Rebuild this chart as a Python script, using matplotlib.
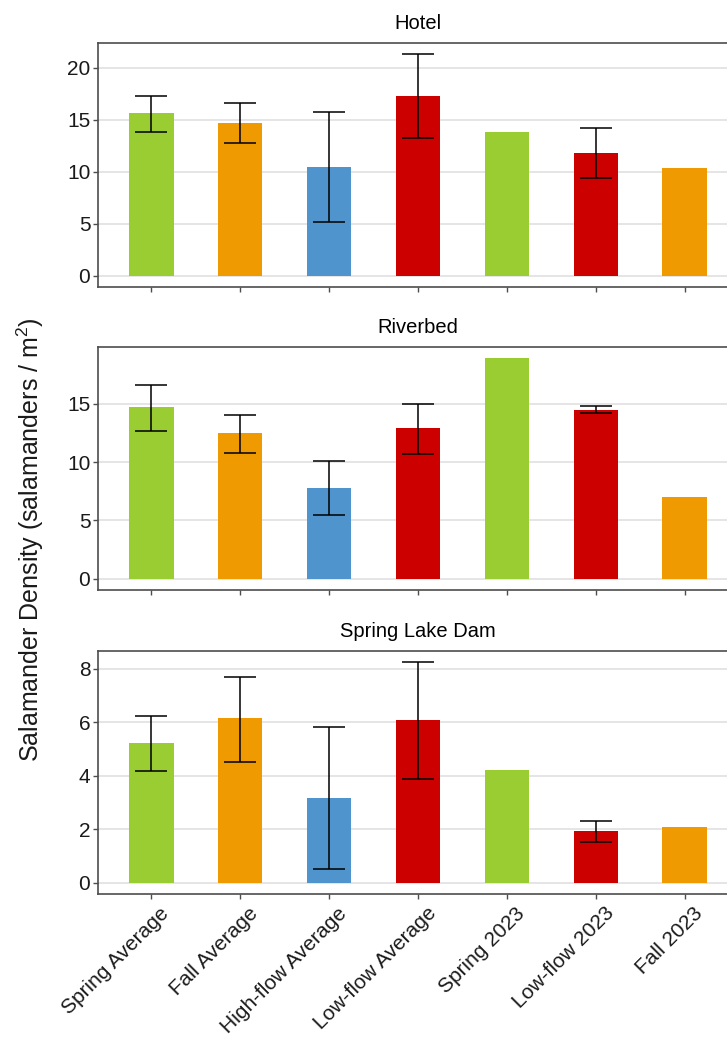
import matplotlib

matplotlib.use("Agg")

import matplotlib.pyplot as plt
import matplotlib.transforms as mtransforms
import numpy as np
from matplotlib.ticker import MultipleLocator

plt.rcParams["font.family"] = ["Liberation Sans", "DejaVu Sans"]
plt.rcParams["mathtext.fontset"] = "custom"
plt.rcParams["mathtext.rm"] = "Liberation Sans"
plt.rcParams["mathtext.it"] = "Liberation Sans:italic"

CATEGORIES = [
    "Spring Average",
    "Fall Average",
    "High-flow Average",
    "Low-flow Average",
    "Spring 2023",
    "Low-flow 2023",
    "Fall 2023",
]
SEASON = ["spring", "fall", "high", "low", "spring", "low", "fall"]
SEASON_COLORS = {"spring": "#9ACD32", "fall": "#EE9A00", "high": "#4F94CD", "low": "#CD0000"}

SITES = ["Hotel", "Riverbed", "Spring Lake Dam"]

# mean density and the lower / upper ends of the error bars (nan = single survey)
HOTEL_MEAN = [15.6, 14.7, 10.5, 17.3, 13.8, 11.8, 10.35]
HOTEL_LOW = [13.85, 12.8, 5.2, 13.2, np.nan, 9.4, np.nan]
HOTEL_HIGH = [17.3, 16.6, 15.7, 21.3, np.nan, 14.25, np.nan]

RIVERBED_MEAN = [14.67, 12.48, 7.78, 12.94, 18.89, 14.48, 6.98]
RIVERBED_LOW = [12.65, 10.8, 5.44, 10.66, np.nan, 14.19, np.nan]
RIVERBED_HIGH = [16.6, 14.05, 10.09, 14.99, np.nan, 14.76, np.nan]

DAM_MEAN = [5.24, 6.16, 3.16, 6.11, 4.22, 1.94, 2.09]
DAM_LOW = [4.2, 4.51, 0.51, 3.9, np.nan, 1.52, np.nan]
DAM_HIGH = [6.23, 7.71, 5.82, 8.26, np.nan, 2.33, np.nan]

MEANS = [HOTEL_MEAN, RIVERBED_MEAN, DAM_MEAN]
LOWS = [HOTEL_LOW, RIVERBED_LOW, DAM_LOW]
HIGHS = [HOTEL_HIGH, RIVERBED_HIGH, DAM_HIGH]
Y_STEPS = [5, 5, 2]

W, H = 727, 1041
fig = plt.figure(figsize=(W / 100, H / 100), dpi=100)
fig.patch.set_facecolor("white")

# panel boxes in pixels: (top, bottom); the right edge runs past the canvas
left_px, right_px = 98, 738
panel_px = [(43, 287), (347, 590), (651, 894)]

x = np.arange(len(CATEGORIES))
colors = [SEASON_COLORS[s] for s in SEASON]

for i, site in enumerate(SITES):
    top, bottom = panel_px[i]
    ax = fig.add_axes([left_px / W, (H - bottom) / H, (right_px - left_px) / W, (bottom - top) / H])
    mean = np.array(MEANS[i])
    low = np.array(LOWS[i])
    high = np.array(HIGHS[i])

    ax.bar(x, mean, width=0.5, color=colors, zorder=2)
    has_err = ~np.isnan(low)
    ax.errorbar(
        x[has_err], mean[has_err],
        yerr=[mean[has_err] - low[has_err], high[has_err] - mean[has_err]],
        fmt="none", ecolor="black", elinewidth=1.1, capsize=11.5, capthick=1.1, zorder=3,
    )

    top_val = np.nanmax(np.concatenate([mean, high]))
    ax.set_ylim(-0.05 * top_val, 1.05 * top_val)
    ax.set_xlim(-0.6, len(CATEGORIES) - 0.4)
    ax.yaxis.set_major_locator(MultipleLocator(Y_STEPS[i]))
    ax.grid(axis="y", color="#DEDEDE", linewidth=1.1, zorder=0)
    ax.set_axisbelow(True)

    for spine in ax.spines.values():
        spine.set_color("#4D4D4D")
        spine.set_linewidth(1.2)

    ax.tick_params(axis="both", length=3.5, width=1.0, color="#4D4D4D", labelsize=15, labelcolor="#1A1A1A")
    ax.tick_params(axis="y", pad=2)
    ax.set_xticks(x)
    if i < len(SITES) - 1:
        ax.set_xticklabels([])
    else:
        ax.set_xticklabels(CATEGORIES, rotation=45, ha="right", va="top", rotation_mode="anchor", fontsize=15)
        shift = mtransforms.ScaledTranslation(6 / 72, 0, fig.dpi_scale_trans)
        for lab in ax.get_xticklabels():
            lab.set_transform(lab.get_transform() + shift)
    ax.set_title(site, fontsize=14.5, pad=10, color="black")

fig.text(
    30 / W, 1 - 540 / H,
    "Salamander Density (salamanders / m$^{2}$)",
    rotation=90, ha="center", va="center", fontsize=18, color="#1A1A1A",
)

fig.savefig("out.png", dpi=100)
